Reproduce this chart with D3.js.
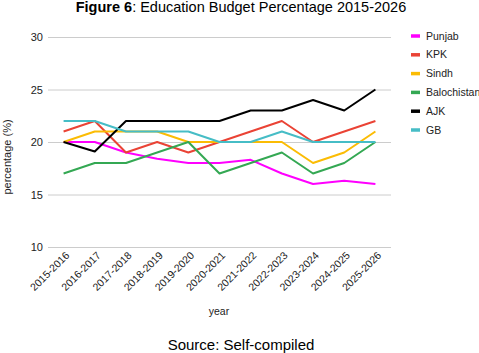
<!DOCTYPE html>
<html>
<head>
<meta charset="utf-8">
<script src="https://cdn.jsdelivr.net/npm/d3@7"></script>
<style>
  body { margin: 0; background: #fff; }
  text { font-family: "Liberation Sans", Arial, sans-serif; }
</style>
</head>
<body>
<div id="chart"></div>
<script>
let width = 479,
    height = 353,
    margin = ({ top: 37, right: 88, bottom: 106, left: 48 });

// data
const years = ["2015-2016", "2016-2017", "2017-2018", "2018-2019", "2019-2020", "2020-2021",
               "2021-2022", "2022-2023", "2023-2024", "2024-2025", "2025-2026"];
const punjab = [20, 20, 19, 18.4, 18, 18, 18.3, 17, 16, 16.3, 16];
const kpk = [21, 22, 19, 20, 19, 20, 21, 22, 20, 21, 22];
const sindh = [20, 21, 21, 21, 20, 20, 20, 20, 18, 19, 21];
const balochistan = [17, 18, 18, 19, 20, 17, 18, 19, 17, 18, 20];
const ajk = [20, 19.1, 22, 22, 22, 22, 23, 23, 24, 23, 25];
const gb = [22, 22, 21, 21, 21, 20, 20, 21, 20, 20, 20];
const yTicks = [10, 15, 20, 25, 30];

const seriesNames = ["Punjab", "KPK", "Sindh", "Balochistan", "AJK", "GB"];
const seriesValues = [punjab, kpk, sindh, balochistan, ajk, gb];
const colors = ["#ff00ff", "#ea4335", "#fbbc04", "#34a853", "#000000", "#46bdc6"];

const svg = d3.select("#chart")
    .append("svg")
    .attr("width", width)
    .attr("height", height);

let x = d3.scalePoint()
    .domain(years)
    .range([margin.left, width - margin.right])
    .padding(0.5);

let y = d3.scaleLinear()
    .domain([10, 30])
    .range([height - margin.bottom, margin.top]);

// gridlines + y labels
svg.append("g")
    .attr("class", "y-axis")
    .attr("transform", `translate(${margin.left},0)`)
    .call(d3.axisLeft(y).tickValues(yTicks).tickSize(-(width - margin.left - margin.right)).tickPadding(5))
    .call(g => g.select(".domain").remove())
    .call(g => g.selectAll("line").attr("stroke", "#cccccc"))
    .call(g => g.selectAll("text").attr("font-size", 11).attr("fill", "#222"));

// x labels, rotated
svg.append("g")
    .attr("class", "x-axis")
    .attr("transform", `translate(0,${height - margin.bottom})`)
    .call(d3.axisBottom(x).tickSize(0).tickPadding(0))
    .call(g => g.select(".domain").remove())
    .call(g => g.selectAll("text")
        .attr("font-size", 10.5)
        .attr("fill", "#222")
        .attr("text-anchor", "end")
        .attr("dy", 0)
        .attr("transform", "translate(6,9) rotate(-45)"));

// lines
const line = d3.line()
    .x((d, i) => x(years[i]))
    .y(d => y(d));

svg.append("g")
    .selectAll("path")
    .data(seriesValues)
    .join("path")
    .attr("d", d => line(d))
    .attr("fill", "none")
    .attr("stroke", (d, i) => colors[i])
    .attr("stroke-width", 2)
    .attr("stroke-linejoin", "round");

// legend
const legend = svg.append("g")
    .attr("transform", "translate(411,36)")
    .selectAll("g")
    .data(seriesNames)
    .join("g")
    .attr("transform", (d, i) => `translate(0,${i * 18.8})`);

legend.append("line")
    .attr("x1", 0).attr("x2", 9)
    .attr("stroke", (d, i) => colors[i])
    .attr("stroke-width", 3.5);

legend.append("text")
    .attr("x", 15)
    .attr("dy", "0.35em")
    .attr("font-size", 10.5)
    .attr("fill", "#222")
    .text(d => d);

// title
const title = svg.append("text")
    .attr("x", 241)
    .attr("y", 12)
    .attr("text-anchor", "middle")
    .attr("font-size", 14.5)
    .attr("fill", "#000");
title.append("tspan").attr("font-weight", "bold").text("Figure 6");
title.append("tspan").text(": Education Budget Percentage 2015-2026");

// axis titles
svg.append("text")
    .attr("transform", "translate(11,157) rotate(-90)")
    .attr("text-anchor", "middle")
    .attr("font-size", 11)
    .attr("fill", "#222")
    .text("percentage (%)");

svg.append("text")
    .attr("x", 219)
    .attr("y", 315)
    .attr("text-anchor", "middle")
    .attr("font-size", 10.5)
    .attr("fill", "#222")
    .text("year");

svg.append("text")
    .attr("x", 241)
    .attr("y", 350)
    .attr("text-anchor", "middle")
    .attr("font-size", 15)
    .attr("fill", "#000")
    .text("Source: Self-compiled");
</script>
</body>
</html>
